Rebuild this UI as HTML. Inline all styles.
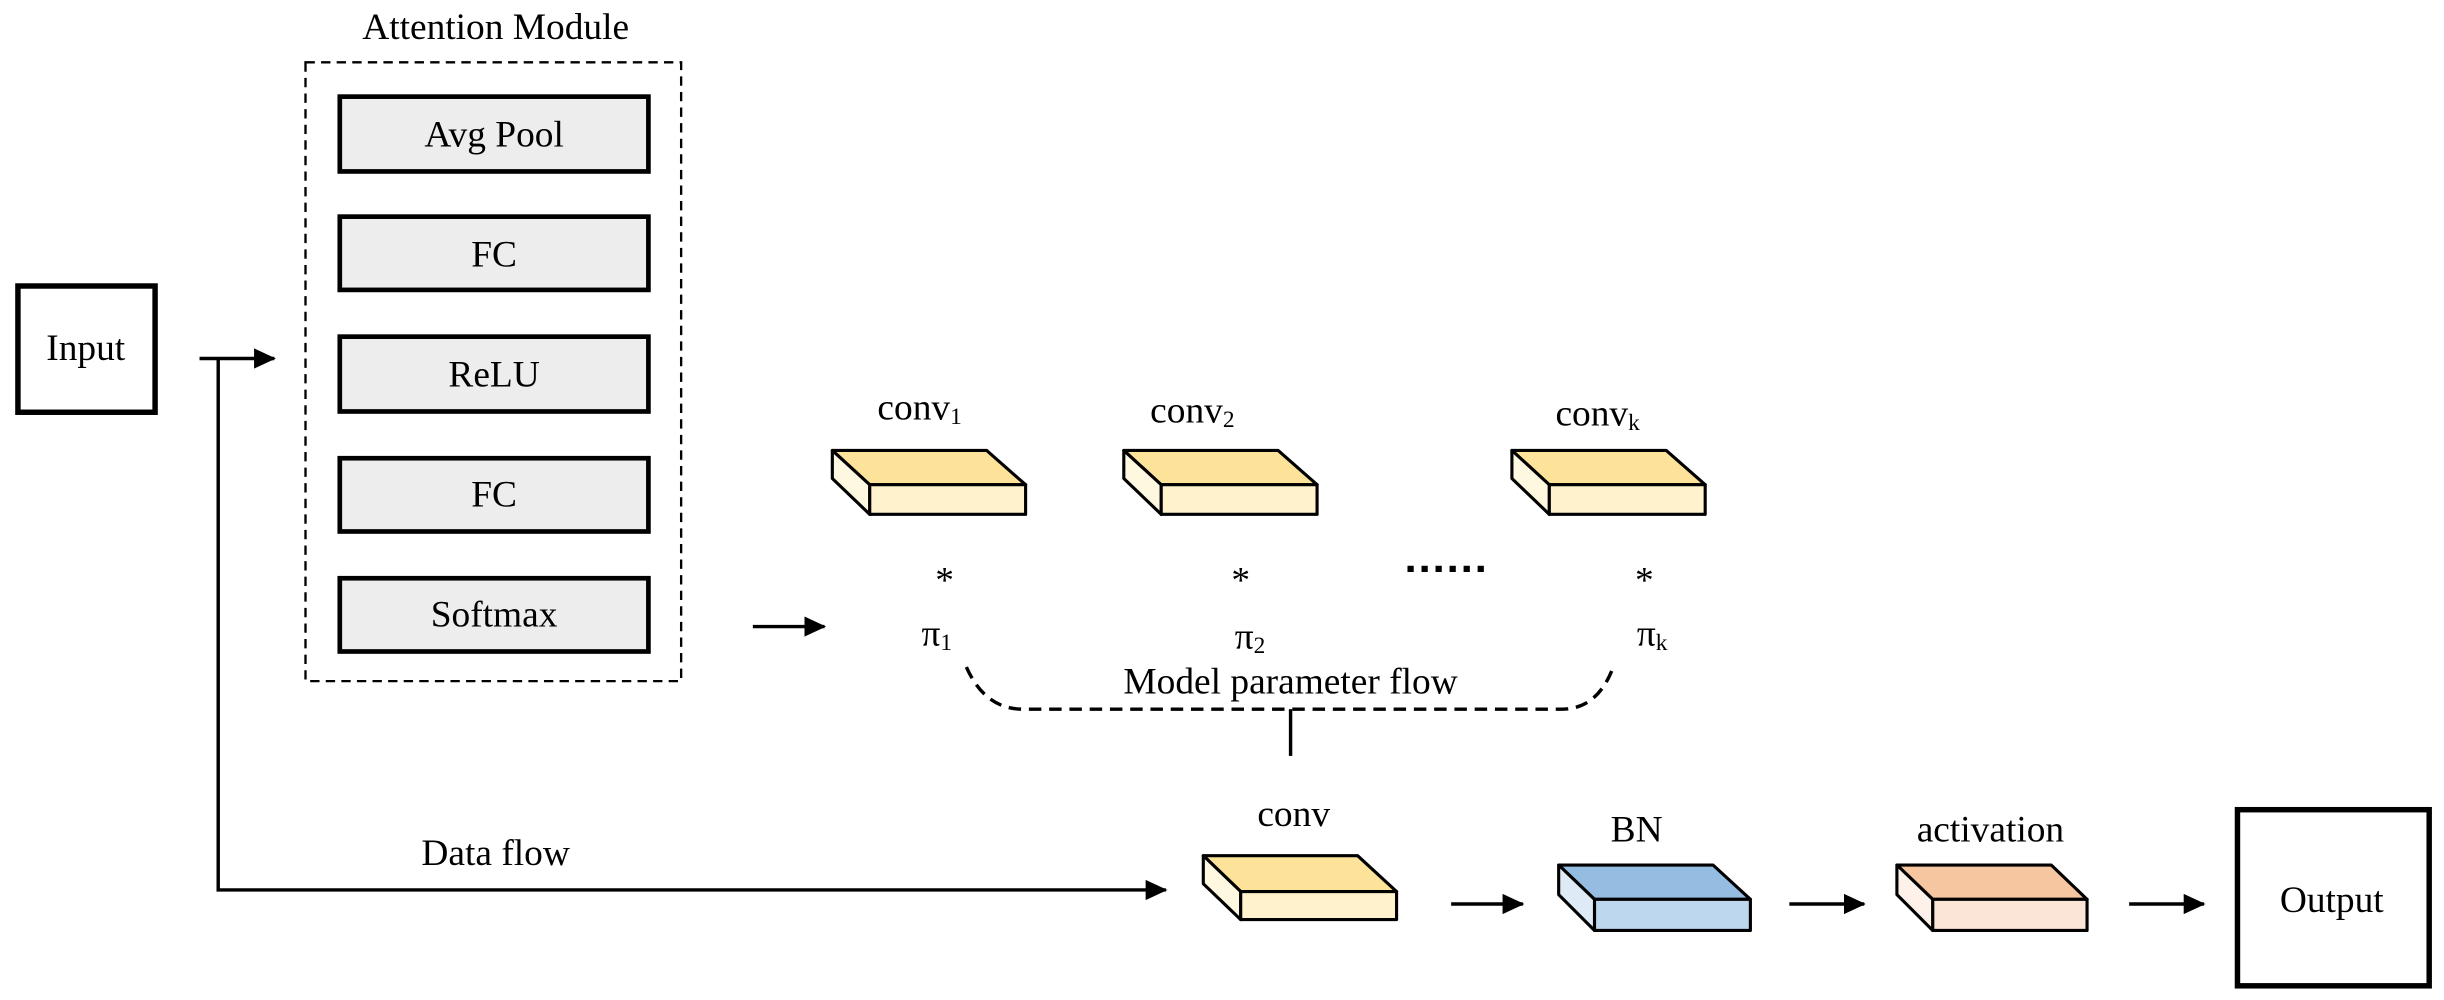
<!DOCTYPE html>
<html><head><meta charset="utf-8"><style>html,body{margin:0;padding:0;background:#fff}svg{display:block}</style></head>
<body>
<svg width="2444" height="1000" viewBox="0 0 1568 641.6" preserveAspectRatio="none" xmlns="http://www.w3.org/2000/svg" font-family="Liberation Serif, serif" font-size="24" fill="#000">
<defs>
<marker id="ah" markerWidth="14" markerHeight="14" refX="13" refY="7" orient="auto" markerUnits="userSpaceOnUse"><path d="M0,0.5 L14,7 L0,13.5 z" fill="#000"/></marker>
</defs>
<text x="318" y="25" text-anchor="middle">Attention Module</text>
<rect x="196" y="40" width="241" height="397" fill="none" stroke="#000" stroke-width="1.5" stroke-dasharray="6,4"/>
<g fill="#ededed" stroke="#000" stroke-width="3">
<rect x="218" y="62" width="198" height="48"/>
<rect x="218" y="139" width="198" height="47"/>
<rect x="218" y="216" width="198" height="48"/>
<rect x="218" y="294" width="198" height="47"/>
<rect x="218" y="371" width="198" height="47"/>
</g>
<g text-anchor="middle">
<text x="317" y="94">Avg Pool</text>
<text x="317" y="171">FC</text>
<text x="317" y="248">ReLU</text>
<text x="317" y="325">FC</text>
<text x="317" y="402">Softmax</text>
</g>
<rect x="11.5" y="183.5" width="88" height="81" fill="none" stroke="#000" stroke-width="3.5"/>
<text x="55" y="231" text-anchor="middle">Input</text>
<g stroke="#000" stroke-width="2.2" fill="none">
<line x1="128" y1="230" x2="176" y2="230" marker-end="url(#ah)"/>
<polyline points="140,230 140,571 748,571" marker-end="url(#ah)"/>
<line x1="483" y1="402" x2="529" y2="402" marker-end="url(#ah)"/>
<line x1="931" y1="580" x2="977" y2="580" marker-end="url(#ah)"/>
<line x1="1148" y1="580" x2="1196" y2="580" marker-end="url(#ah)"/>
<line x1="1366" y1="580" x2="1414" y2="580" marker-end="url(#ah)"/>
<path d="M620,428 Q632,455 656,455 L1002,455 Q1025,455 1035,428" stroke-dasharray="8,5"/>
<line x1="828" y1="455" x2="828" y2="485"/>
</g>
<text x="318" y="555" text-anchor="middle">Data flow</text>
<text x="828" y="445" text-anchor="middle">Model parameter flow</text>
<g stroke="#000" stroke-width="2" stroke-linejoin="round">
<path d="M534,289 L633,289 L658,311 L558,311 Z" fill="#fde39a"/>
<path d="M534,289 L558,311 L558,330 L534,307 Z" fill="#fff8e1"/>
<rect x="558" y="311" width="100" height="19" fill="#fff2cc"/>
<path d="M721,289 L820,289 L845,311 L745,311 Z" fill="#fde39a"/>
<path d="M721,289 L745,311 L745,330 L721,307 Z" fill="#fff8e1"/>
<rect x="745" y="311" width="100" height="19" fill="#fff2cc"/>
<path d="M970,289 L1069,289 L1094,311 L994,311 Z" fill="#fde39a"/>
<path d="M970,289 L994,311 L994,330 L970,307 Z" fill="#fff8e1"/>
<rect x="994" y="311" width="100" height="19" fill="#fff2cc"/>
<path d="M772,549 L871,549 L896,572 L796,572 Z" fill="#fde39a"/>
<path d="M772,549 L796,572 L796,590 L772,567 Z" fill="#fff8e1"/>
<rect x="796" y="572" width="100" height="18" fill="#fff2cc"/>
<path d="M1000,555 L1099,555 L1123,577 L1023,577 Z" fill="#95bde2"/>
<path d="M1000,555 L1023,577 L1023,597 L1000,574 Z" fill="#deebf7"/>
<rect x="1023" y="577" width="100" height="20" fill="#bdd7ee"/>
<path d="M1217,555 L1316,555 L1339,577 L1240,577 Z" fill="#f5c6a0"/>
<path d="M1217,555 L1240,577 L1240,597 L1217,574 Z" fill="#fdf1ea"/>
<rect x="1240" y="577" width="99" height="20" fill="#fbe5d6"/>
</g>
<text x="590" y="269" text-anchor="middle">conv<tspan font-size="15" dy="3">1</tspan></text>
<text x="765" y="271" text-anchor="middle">conv<tspan font-size="15" dy="3">2</tspan></text>
<text x="1025" y="273" text-anchor="middle">conv<tspan font-size="15" dy="3">k</tspan></text>
<text x="606" y="380" text-anchor="middle">*</text>
<text x="796" y="380" text-anchor="middle">*</text>
<text x="1055" y="380" text-anchor="middle">*</text>
<text x="601" y="414" text-anchor="middle">π<tspan font-size="15" dy="3">1</tspan></text>
<text x="802" y="416" text-anchor="middle">π<tspan font-size="15" dy="3">2</tspan></text>
<text x="1060" y="414" text-anchor="middle">π<tspan font-size="15" dy="3">k</tspan></text>
<g fill="#000"><rect x="903" y="363" width="4" height="4"/><rect x="912" y="363" width="4" height="4"/><rect x="921" y="363" width="4" height="4"/><rect x="930" y="363" width="4" height="4"/><rect x="939" y="363" width="4" height="4"/><rect x="948" y="363" width="4" height="4"/></g>
<text x="830" y="530" text-anchor="middle">conv</text>
<text x="1050" y="540" text-anchor="middle">BN</text>
<text x="1277" y="540" text-anchor="middle">activation</text>
<rect x="1435.5" y="519.5" width="123" height="113" fill="none" stroke="#000" stroke-width="3.5"/>
<text x="1496" y="585" text-anchor="middle">Output</text>
</svg>
</body></html>
